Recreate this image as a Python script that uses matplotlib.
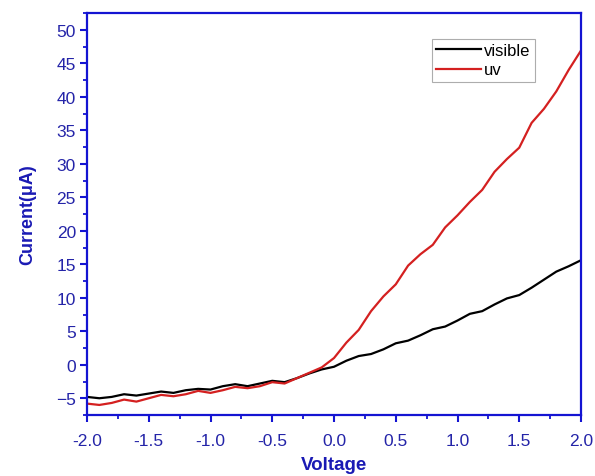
import numpy as np
import matplotlib
matplotlib.use('Agg')
import matplotlib.pyplot as plt
from matplotlib.ticker import MultipleLocator

# 전압 (V)
voltage = [-2.0, -1.9, -1.8, -1.7, -1.6, -1.5, -1.4, -1.3, -1.2, -1.1, -1.0,
           -0.9, -0.8, -0.7, -0.6, -0.5, -0.4, -0.3, -0.2, -0.1, 0.0,
           0.1, 0.2, 0.3, 0.4, 0.5, 0.6, 0.7, 0.8, 0.9, 1.0,
           1.1, 1.2, 1.3, 1.4, 1.5, 1.6, 1.7, 1.8, 1.9, 2.0]

# 가시광 전류 (uA)
visible = [-4.8, -5.0, -4.8, -4.4, -4.6, -4.3, -4.0, -4.2, -3.8, -3.6, -3.7,
           -3.2, -2.9, -3.2, -2.8, -2.4, -2.6, -2.0, -1.3, -0.7, -0.3,
           0.6, 1.3, 1.6, 2.3, 3.2, 3.6, 4.4, 5.3, 5.7, 6.6,
           7.6, 8.0, 9.0, 9.9, 10.4, 11.5, 12.7, 13.9, 14.7, 15.6]

# UV 전류 (uA)
uv = [-5.8, -6.0, -5.7, -5.2, -5.5, -5.0, -4.5, -4.7, -4.4, -3.9, -4.2,
      -3.8, -3.3, -3.5, -3.2, -2.6, -2.8, -2.0, -1.2, -0.4, 1.0,
      3.3, 5.2, 8.0, 10.2, 12.0, 14.8, 16.5, 17.9, 20.5, 22.3,
      24.3, 26.1, 28.8, 30.7, 32.4, 36.1, 38.2, 40.8, 44.0, 46.9]

x_ticks = [-2.0, -1.5, -1.0, -0.5, 0.0, 0.5, 1.0, 1.5, 2.0]
y_ticks = [-5, 0, 5, 10, 15, 20, 25, 30, 35, 40, 45, 50]

plt.rcParams['font.family'] = ['Liberation Sans', 'DejaVu Sans']

spine_c = '#1414d2'
text_c = '#2424a8'
label_c = '#1a1ab4'

fig = plt.figure(figsize=(5.95, 4.77), dpi=100)
ax = fig.add_axes([87/595, 1 - 416/477, 494/595, 402/477])

ax.plot(voltage, visible, color='black', lw=1.6, label='visible')
ax.plot(voltage, uv, color='#d42020', lw=1.6, label='uv')

ax.set_xlim(-2.0, 2.0)
ax.set_ylim(-7.5, 52.5)
ax.set_xticks(x_ticks)
ax.set_xticklabels([f'{v:.1f}' for v in x_ticks])
ax.set_yticks(y_ticks)
ax.xaxis.set_minor_locator(MultipleLocator(0.25))
ax.yaxis.set_minor_locator(MultipleLocator(2.5))

for s in ax.spines.values():
    s.set_color(spine_c)
    s.set_linewidth(1.6)

ax.tick_params(which='major', direction='out', length=5, width=1.5, color=spine_c,
               labelsize=12.5, labelcolor=text_c)
ax.tick_params(axis='x', which='major', pad=8)
ax.tick_params(axis='y', which='major', pad=3)
ax.tick_params(which='minor', direction='out', length=3, width=1.3, color=spine_c)
ax.tick_params(top=False, right=False, which='both')

ax.set_xlabel('Voltage', fontsize=13.5, fontweight='bold', color=label_c, labelpad=6)
ax.set_ylabel('Current(μA)', fontsize=13, fontweight='bold', color=label_c, labelpad=14)

leg = ax.legend(loc='upper left', bbox_to_anchor=(0.698, 0.935), fontsize=12,
                frameon=True, fancybox=False, handlelength=2.7, handletextpad=0.2,
                borderpad=0.25, labelspacing=0.25, borderaxespad=0)
leg.get_frame().set_edgecolor('#999999')
leg.get_frame().set_linewidth(0.8)

plt.savefig('out.png', dpi=100)
